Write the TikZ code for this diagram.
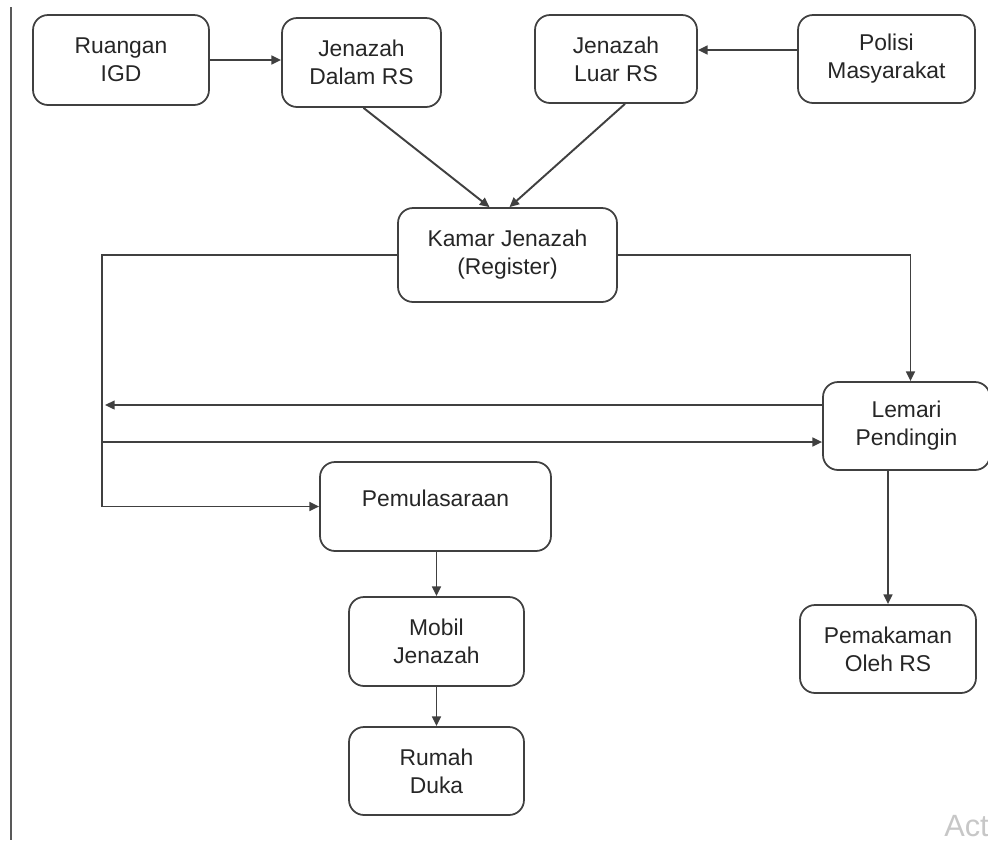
\documentclass[tikz,border=0pt]{standalone}
\usepackage{fontspec}
\setmainfont{Liberation Sans}
\usetikzlibrary{arrows.meta,positioning}
\tikzset{>={Triangle[length=5.5pt,width=5pt]}}
\tikzset{
  box/.style={draw=black!75, line width=1pt, rounded corners=0.3cm, align=center,
    text=black!85, font=\fontsize{13}{16}\selectfont, inner sep=0pt},
  conn/.style={draw=black!75, line width=1.1pt, ->}
}

\begin{document}
\begin{tikzpicture}[x=0.02cm,y=-0.02cm]
  \useasboundingbox (0,0) rectangle (988,840);
  \draw[black!65, line width=1.2pt] (11,7) -- (11,840);

  \node[box, minimum width=3.52cm, minimum height=1.8cm] (igd) at (121,60) {Ruangan\\IGD};
  \node[box, minimum width=3.18cm, minimum height=1.78cm] (dalam) at (361.5,62.5) {Jenazah\\Dalam RS};
  \node[box, minimum width=3.24cm, minimum height=1.76cm] (luar) at (616,59) {Jenazah\\Luar RS};
  \node[box, minimum width=3.54cm, minimum height=1.76cm] (polisi) at (886.5,59) {Polisi\\Masyarakat};
  \node[box, minimum width=4.38cm, minimum height=1.88cm] (kamar) at (507.5,255) {Kamar Jenazah\\(Register)};
  \node[box, minimum width=3.34cm, minimum height=1.76cm] (lemari) at (906.5,426) {Lemari\\Pendingin};
  \node[box, minimum width=4.62cm, minimum height=1.78cm] (pemu) at (435.5,506.5) {\raisebox{0.16cm}[\height][\depth]{Pemulasaraan}};
  \node[box, minimum width=3.5cm, minimum height=1.78cm] (mobil) at (436.5,641.5) {Mobil\\Jenazah};
  \node[box, minimum width=3.5cm, minimum height=1.76cm] (rumah) at (436.5,771) {Rumah\\Duka};
  \node[box, minimum width=3.52cm, minimum height=1.76cm] (makam) at (888,649) {Pemakaman\\Oleh RS};

  \coordinate (railA) at (105,405);
  \coordinate (railB) at (103,442);

  \draw[conn] (igd.east) -- (igd.east -| dalam.west);
  \draw[conn] ([yshift=0.18cm]polisi.west) -- ([yshift=0.18cm]polisi.west -| luar.east);
  \draw[conn] ([xshift=0.04cm]dalam.south) -- ([xshift=-0.36cm]kamar.north);
  \draw[conn] ([xshift=0.18cm]luar.south) -- ([xshift=0.04cm]kamar.north);
  \draw[conn] (kamar.west) -- ++(-295,0) |- (pemu.west);
  \draw[conn] (kamar.east) -| ([xshift=0.08cm]lemari.north);
  \draw[conn] (lemari.west |- railA) -- (railA);
  \draw[conn] (railB) -- (railB -| lemari.west);
  \draw[conn] (lemari.south -| makam.north) -- (makam.north);
  \draw[conn] (pemu.south -| mobil.north) -- (mobil.north);
  \draw[conn] (mobil.south) -- (rumah.north);

  \node[anchor=base west, text=black!22, font=\fontsize{17.5}{20}\selectfont, inner sep=0pt] (act) at (944,836) {Act};
\end{tikzpicture}
\end{document}
